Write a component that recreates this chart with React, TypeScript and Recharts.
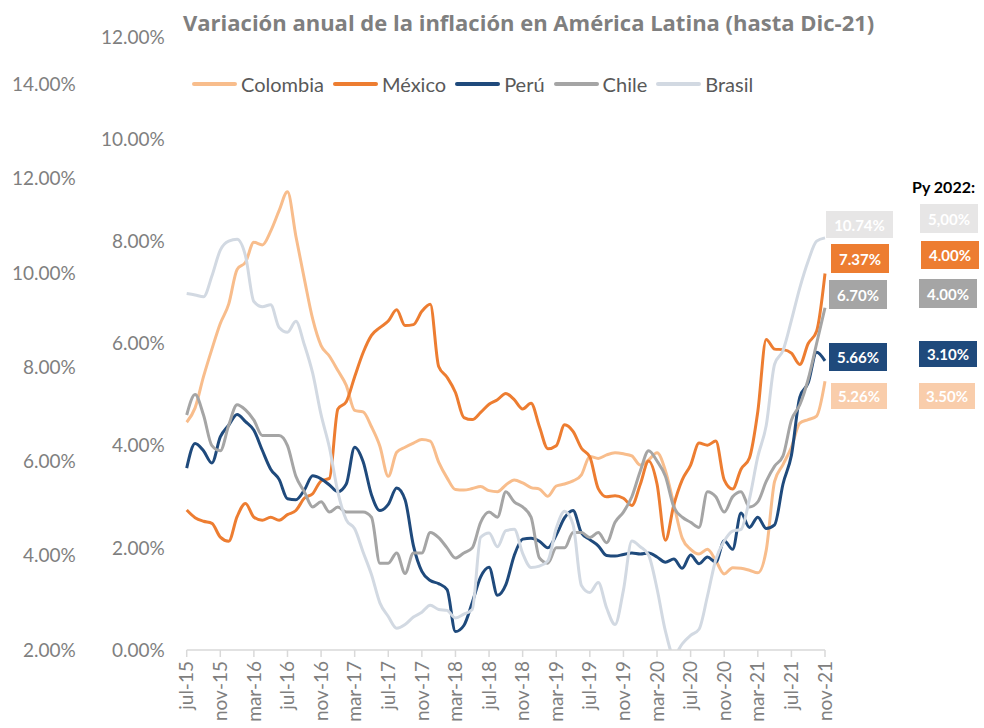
import React from 'react';
import { LineChart, Line, XAxis, YAxis, Legend } from 'recharts';

const months = [
  'jul-15', 'ago-15', 'sep-15', 'oct-15', 'nov-15', 'dic-15',
  'ene-16', 'feb-16', 'mar-16', 'abr-16', 'may-16', 'jun-16', 'jul-16', 'ago-16', 'sep-16', 'oct-16', 'nov-16', 'dic-16',
  'ene-17', 'feb-17', 'mar-17', 'abr-17', 'may-17', 'jun-17', 'jul-17', 'ago-17', 'sep-17', 'oct-17', 'nov-17', 'dic-17',
  'ene-18', 'feb-18', 'mar-18', 'abr-18', 'may-18', 'jun-18', 'jul-18', 'ago-18', 'sep-18', 'oct-18', 'nov-18', 'dic-18',
  'ene-19', 'feb-19', 'mar-19', 'abr-19', 'may-19', 'jun-19', 'jul-19', 'ago-19', 'sep-19', 'oct-19', 'nov-19', 'dic-19',
  'ene-20', 'feb-20', 'mar-20', 'abr-20', 'may-20', 'jun-20', 'jul-20', 'ago-20', 'sep-20', 'oct-20', 'nov-20', 'dic-20',
  'ene-21', 'feb-21', 'mar-21', 'abr-21', 'may-21', 'jun-21', 'jul-21', 'ago-21', 'sep-21', 'oct-21', 'nov-21',
];

const colombia = [
  4.46, 4.74, 5.35, 5.89, 6.39, 6.77,
  7.45, 7.59, 7.98, 7.93, 8.2, 8.6, 8.97, 8.1, 7.27, 6.48, 5.96, 5.75,
  5.47, 5.18, 4.69, 4.66, 4.37, 3.99, 3.4, 3.87, 3.97, 4.05, 4.12, 4.09,
  3.68, 3.37, 3.14, 3.13, 3.16, 3.2, 3.12, 3.1, 3.23, 3.33, 3.27, 3.18,
  3.15, 3.01, 3.21, 3.25, 3.31, 3.43, 3.79, 3.75, 3.82, 3.86, 3.84, 3.8,
  3.62, 3.72, 3.86, 3.51, 2.85, 2.19, 1.97, 1.88, 1.97, 1.75, 1.49, 1.61,
  1.6, 1.56, 1.51, 1.95, 3.3, 3.63, 3.97, 4.44, 4.51, 4.58, 5.26,
];

const mexico = [
  2.74, 2.59, 2.52, 2.48, 2.21, 2.13,
  2.61, 2.87, 2.6, 2.54, 2.6, 2.54, 2.65, 2.73, 2.97, 3.06, 3.31, 3.36,
  4.72, 4.86, 5.35, 5.82, 6.16, 6.31, 6.44, 6.66, 6.35, 6.37, 6.63, 6.77,
  5.55, 5.34, 5.04, 4.55, 4.51, 4.65, 4.81, 4.9, 5.02, 4.9, 4.72, 4.83,
  4.37, 3.94, 4.0, 4.41, 4.28, 3.95, 3.78, 3.16, 3.0, 3.02, 2.97, 2.83,
  3.24, 3.7, 3.25, 2.15, 2.84, 3.33, 3.62, 4.05, 4.01, 4.09, 3.33, 3.15,
  3.54, 3.76, 4.67, 6.08, 5.89, 5.88, 5.81, 5.59, 6.0, 6.24, 7.37,
];

const peru = [
  3.56, 4.04, 3.9, 3.66, 4.17, 4.4,
  4.61, 4.47, 4.3, 3.91, 3.54, 3.34, 2.96, 2.94, 3.13, 3.41, 3.35, 3.23,
  3.1, 3.25, 3.97, 3.69, 3.04, 2.73, 2.85, 3.17, 2.94, 2.04, 1.54, 1.36,
  1.3, 1.18, 0.36, 0.48, 0.93, 1.43, 1.62, 1.07, 1.28, 1.85, 2.17, 2.19,
  2.13, 2.0, 2.25, 2.59, 2.73, 2.29, 2.16, 2.04, 1.85, 1.84, 1.87, 1.9,
  1.88, 1.9, 1.82, 1.72, 1.78, 1.6, 1.86, 1.69, 1.82, 1.72, 2.14, 1.97,
  2.68, 2.4, 2.6, 2.38, 2.45, 3.25, 3.81, 4.95, 5.23, 5.83, 5.66,
];

const chile = [
  4.6, 5.0, 4.6, 4.0, 3.9, 4.4,
  4.8, 4.7, 4.5, 4.2, 4.2, 4.2, 4.0, 3.4, 3.1, 2.8, 2.9, 2.7,
  2.8, 2.7, 2.7, 2.7, 2.6, 1.7, 1.7, 1.9, 1.5, 1.9, 1.9, 2.3,
  2.2, 2.0, 1.8, 1.9, 2.0, 2.5, 2.7, 2.6, 3.1, 2.9, 2.8, 2.6,
  1.8, 1.7, 2.0, 2.0, 2.3, 2.3, 2.2, 2.3, 2.1, 2.5, 2.7, 3.0,
  3.5, 3.9, 3.7, 3.4, 2.8, 2.6, 2.5, 2.4, 3.1, 3.0, 2.7, 3.0,
  3.1, 2.8, 2.9, 3.3, 3.6, 3.8, 4.5, 4.8, 5.3, 6.0, 6.7,
];

const brasil = [
  9.56, 9.53, 9.49, 9.93, 10.48, 10.67,
  10.71, 10.36, 9.39, 9.28, 9.32, 8.84, 8.74, 8.97, 8.48, 7.87, 6.99, 6.29,
  5.35, 4.76, 4.57, 4.08, 3.6, 3.0, 2.71, 2.46, 2.54, 2.7, 2.8, 2.95,
  2.86, 2.84, 2.68, 2.76, 2.86, 4.39, 4.48, 4.19, 4.53, 4.56, 4.05, 3.75,
  3.78, 3.89, 4.58, 4.94, 4.66, 3.37, 3.22, 3.43, 2.89, 2.54, 3.27, 4.31,
  4.19, 4.01, 3.3, 2.4, 1.88, 2.13, 2.31, 2.44, 3.14, 3.92, 4.31, 4.52,
  4.56, 5.2, 6.1, 6.76, 8.06, 8.35, 8.99, 9.68, 10.25, 10.67, 10.74,
];

const innerTicks = [0, 2, 4, 6, 8, 10, 12];
const outerTicks = [2, 4, 6, 8, 10, 12, 14];

const projections2022 = ['5,00%', '4.00%', '4.00%', '3.10%', '3.50%'];

const FONT = "Lato, 'Open Sans', 'DejaVu Sans', sans-serif";
const TITLE_FONT = "'Open Sans', Lato, 'DejaVu Sans', sans-serif";
const AXIS_GRAY = '#7f7f7f';

const rows = months.map((m, i) => ({
  month: m,
  Colombia: colombia[i],
  'México': mexico[i],
  'Perú': peru[i],
  Chile: chile[i],
  Brasil: brasil[i],
}));

const series = [
  { key: 'Colombia', color: '#F8BD8C', axis: 'inner' },
  { key: 'México', color: '#ED7D31', axis: 'inner' },
  { key: 'Perú', color: '#1F4A7C', axis: 'inner' },
  { key: 'Chile', color: '#A5A5A5', axis: 'inner' },
  { key: 'Brasil', color: '#D2D9E2', axis: 'outer' },
];

// annotation boxes (order: Brasil, México, Chile, Perú, Colombia)
const boxOrder = [
  { key: 'Brasil', bg: '#E7E6E6', last: { left: 826, top: 211, w: 67, h: 27 }, proj: { left: 920, top: 204, w: 58, h: 29 }, projIdx: 0 },
  { key: 'México', bg: '#ED7D31', last: { left: 831, top: 244, w: 58, h: 29 }, proj: { left: 921, top: 241, w: 58, h: 28 }, projIdx: 1 },
  { key: 'Chile', bg: '#A5A5A5', last: { left: 829, top: 280, w: 58, h: 29 }, proj: { left: 919, top: 279, w: 58, h: 29 }, projIdx: 2 },
  { key: 'Perú', bg: '#1F4A7C', last: { left: 829, top: 343, w: 58, h: 28 }, proj: { left: 919, top: 341, w: 58, h: 26 }, projIdx: 3 },
  { key: 'Colombia', bg: '#F9CDAB', last: { left: 831, top: 383, w: 56, h: 26 }, proj: { left: 919, top: 383, w: 56, h: 26 }, projIdx: 4 },
];

const lastValue = (key: string) => {
  const arr: number[] = (rows.map((r: any) => r[key]) as number[]);
  return arr[arr.length - 1].toFixed(2) + '%';
};

const XTick = (props: any) => {
  const { x, y, payload } = props;
  return (
    <text
      x={x}
      y={y}
      transform={`rotate(-90 ${x} ${y})`}
      textAnchor="end"
      dy="0.35em"
      fill={AXIS_GRAY}
      fontSize={19}
      fontFamily={FONT}
    >
      {payload.value}
    </text>
  );
};

const renderLegend = (props: any) => {
  const payload = props.payload || [];
  const ordered = series
    .map((s) => payload.find((p: any) => p.value === s.key) || { value: s.key, color: s.color })
    .filter(Boolean);
  return (
    <div style={{ display: 'flex', alignItems: 'center', fontFamily: FONT }}>
      {ordered.map((p: any) => (
        <div key={p.value} style={{ display: 'flex', alignItems: 'center', marginRight: 9 }}>
          <span style={{ display: 'inline-block', width: 45, height: 4, background: p.color, borderRadius: 2, marginRight: 4 }} />
          <span style={{ color: '#595959', fontSize: 20, lineHeight: '22px' }}>{p.value}</span>
        </div>
      ))}
    </div>
  );
};

const Box = ({ text, bg, pos }: any) => (
  <div
    style={{
      position: 'absolute',
      left: pos.left,
      top: pos.top,
      width: pos.w,
      height: pos.h,
      background: bg,
      color: '#ffffff',
      fontFamily: FONT,
      fontWeight: 700,
      fontSize: 15,
      display: 'flex',
      alignItems: 'center',
      justifyContent: 'center',
    }}
  >
    {text}
  </div>
);

export default function App() {
  return (
    <div style={{ position: 'absolute', left: 0, top: 0, width: 984, height: 728, background: '#ffffff', overflow: 'hidden' }}>
      <div
        style={{
          position: 'absolute',
          left: 183,
          top: 7,
          fontFamily: TITLE_FONT,
          fontWeight: 700,
          fontSize: 22,
          color: '#7f7f7f',
          whiteSpace: 'nowrap',
          lineHeight: '30px',
        }}
      >
        Variación anual de la inflación en América Latina (hasta Dic-21)
      </div>
      <LineChart width={984} height={728} data={rows} margin={{ top: 37, right: 159, bottom: 8, left: 16.7 }}>
        <XAxis
          dataKey="month"
          interval={3}
          height={70}
          tick={<XTick />}
          tickSize={7}
          tickMargin={4}
          axisLine={{ stroke: '#D9D9D9', strokeWidth: 1.5 }}
          tickLine={{ stroke: '#D9D9D9', strokeWidth: 1.5 }}
        />
        <YAxis
          yAxisId="inner"
          orientation="left"
          width={90}
          domain={[0, 12]}
          ticks={innerTicks}
          allowDataOverflow
          tickFormatter={(v: number) => v.toFixed(2) + '%'}
          axisLine={false}
          tickLine={false}
          tickSize={0}
          tickMargin={22}
          tick={{ fill: AXIS_GRAY, fontSize: 19, fontFamily: FONT }}
        />
        <YAxis
          yAxisId="outer"
          orientation="left"
          width={80}
          domain={[2, 15]}
          ticks={outerTicks}
          allowDataOverflow
          tickFormatter={(v: number) => v.toFixed(2) + '%'}
          axisLine={false}
          tickLine={false}
          tickSize={0}
          tickMargin={21}
          tick={{ fill: AXIS_GRAY, fontSize: 19, fontFamily: FONT }}
        />
        <Legend
          verticalAlign="middle"
          align="center"
          layout="horizontal"
          content={renderLegend}
          wrapperStyle={{ position: 'absolute', top: 73, left: 192, width: 620, height: 24 }}
        />
        {series.map((s) => (
          <Line
            key={s.key}
            yAxisId={s.axis}
            dataKey={s.key}
            name={s.key}
            type="monotone"
            stroke={s.color}
            strokeWidth={3}
            dot={false}
            activeDot={false}
            isAnimationActive={false}
          />
        ))}
      </LineChart>
      {boxOrder.map((b) => (
        <Box key={'l' + b.key} text={lastValue(b.key)} bg={b.bg} pos={b.last} />
      ))}
      <div
        style={{
          position: 'absolute',
          left: 912,
          top: 176,
          fontFamily: FONT,
          fontWeight: 700,
          fontSize: 16,
          color: '#000000',
          whiteSpace: 'nowrap',
          lineHeight: '22px',
        }}
      >
        Py 2022:
      </div>
      {boxOrder.map((b) => (
        <Box key={'p' + b.key} text={projections2022[b.projIdx]} bg={b.bg} pos={b.proj} />
      ))}
    </div>
  );
}
